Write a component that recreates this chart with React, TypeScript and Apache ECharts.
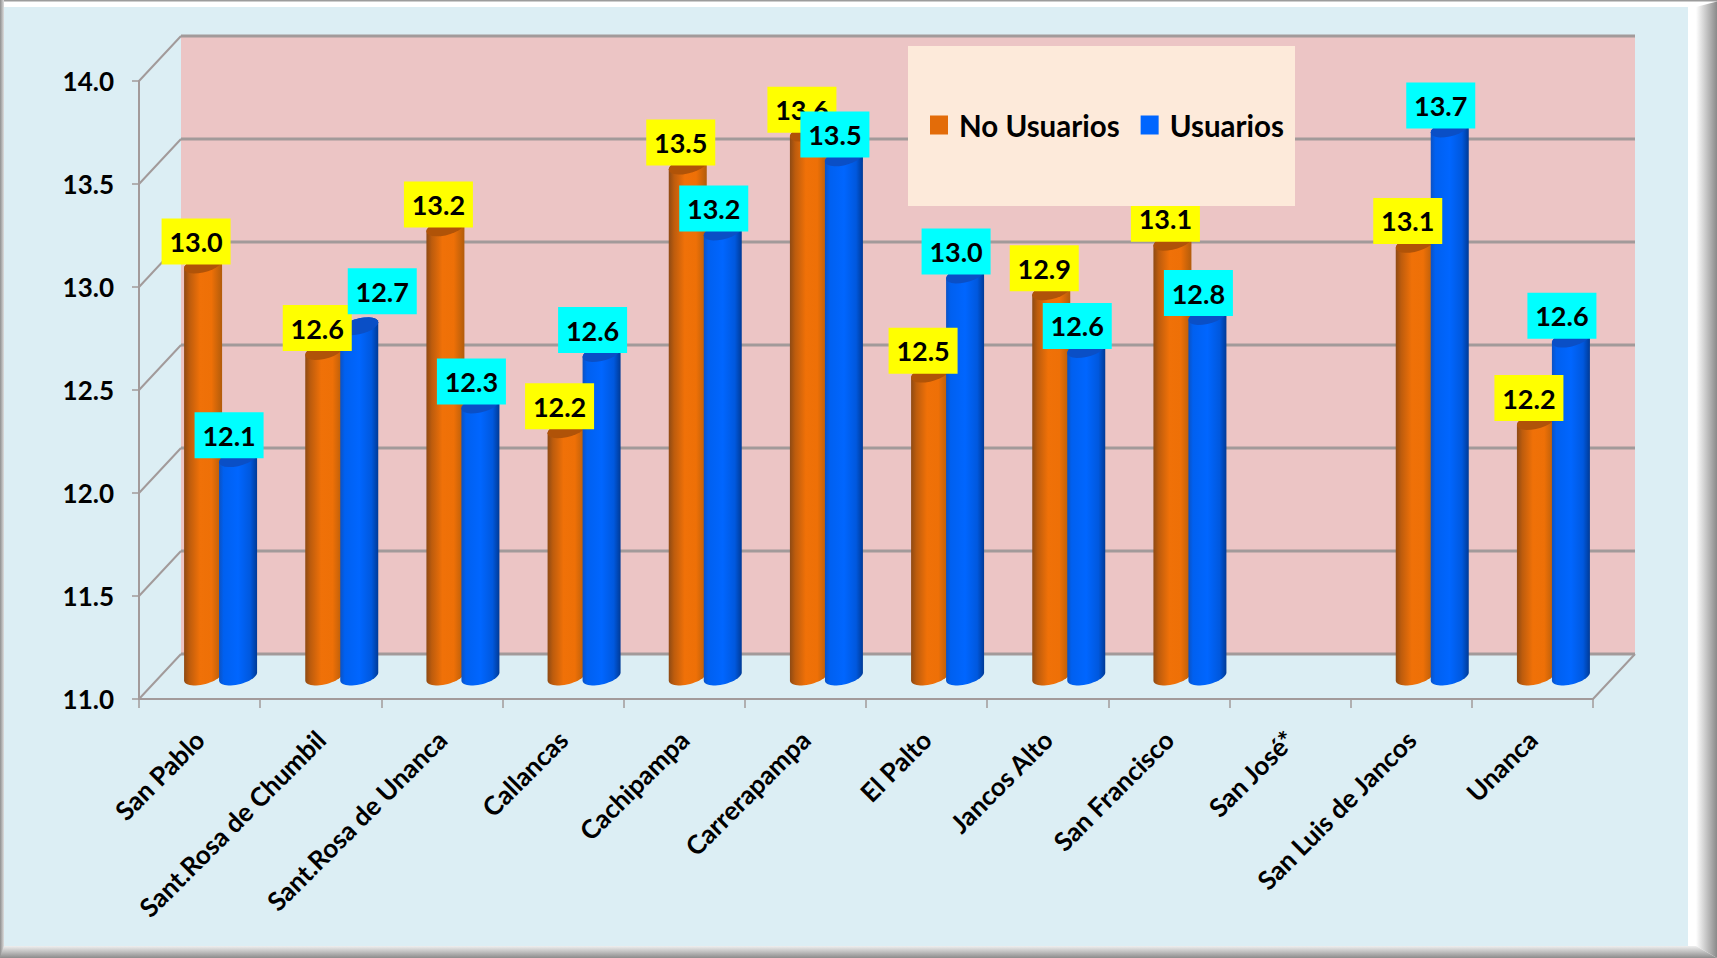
import React, { useEffect, useRef } from "react";
import * as echarts from "echarts";

const categories = ["San Pablo", "Sant.Rosa de Chumbil", "Sant.Rosa de Unanca", "Callancas", "Cachipampa", "Carrerapampa", "El Palto", "Jancos Alto", "San Francisco", "San José*", "San Luis de Jancos", "Unanca"];
const noUsuarios = [13.0, 12.58, 13.18, 12.2, 13.48, 13.64, 12.47, 12.87, 13.11, null, 13.1, 12.24];
const usuarios = [12.06, 12.7, 12.32, 12.57, 13.16, 13.52, 12.951, 12.59, 12.75, null, 13.66, 12.64];
const yTicks = [11, 11.5, 12, 12.5, 13, 13.5, 14];

const W = 1717, H = 958;
const FONT = "Lato";
const DX = 42, DY = 45;
const R = 19, BAR_OFF = 17.5, RY = 8, SK = 4;
const LBL_W = 69, LBL_H = 46;
const GRAY = "#a29a9a";

function rows(vals: (number | null)[]) {
  return vals.map((v, i) => [i, v]);
}
function arc(cx: number, cy: number, a0: number, a1: number) {
  const pts: number[][] = [];
  const n = 24;
  for (let k = 0; k <= n; k++) {
    const t = a0 + ((a1 - a0) * k) / n;
    pts.push([cx + R * Math.cos(t), cy + RY * Math.sin(t) - SK * Math.cos(t)]);
  }
  return pts;
}
const lg = (stops: [number, string][]) =>
  new echarts.graphic.LinearGradient(0, 0, 1, 0, stops.map(([offset, color]) => ({ offset, color })));

const wallSeries = {
  type: "custom",
  name: "wall",
  z: 1,
  silent: true,
  data: yTicks.map((v) => [0, v]),
  encode: { x: 0, y: 1 },
  renderItem(params: any, api: any) {
    const cs = params.coordSys;
    const v = api.value(1);
    const y = api.coord([0, v])[1];
    const x0 = cs.x, x1 = cs.x + cs.width;
    const line = (a: number[], b: number[], w: number) => ({
      type: "line",
      shape: { x1: a[0], y1: a[1], x2: b[0], y2: b[1] },
      style: { stroke: GRAY, lineWidth: w },
    });
    const children: any[] = [];
    if (params.dataIndex === 0) {
      children.push({
        type: "rect",
        shape: { x: x0 + DX, y: cs.y - DY, width: cs.width, height: cs.height },
        style: { fill: "#ecc5c5" },
      });
      children.push(line([x1, y], [x1 + DX, y - DY], 2));
    }
    children.push(line([x0 + DX, y - DY], [x1 + DX, y - DY], 3));
    children.push(line([x0, y], [x0 + DX, y - DY], 2));
    return { type: "group", children };
  },
};

function barSeries(name: string, vals: (number | null)[], side: number, stops: [number, string][], topFill: string, z: number) {
  return {
    type: "custom",
    name,
    z,
    silent: true,
    itemStyle: { color: side < 0 ? "#e36c09" : "#0066ff" },
    data: rows(vals),
    encode: { x: 0, y: 1 },
    renderItem(_p: any, api: any) {
      const v = api.value(1);
      if (v == null || isNaN(v)) return null;
      const i = api.value(0);
      const top = api.coord([i, v]);
      const base = api.coord([i, 11]);
      const cx = top[0] + DX / 2 + side * BAR_OFF;
      const ty = top[1] - DY / 2;
      const by = base[1] - DY / 2;
      const body = [...arc(cx, ty, Math.PI, 2 * Math.PI), ...arc(cx, by, 0, Math.PI)];
      const cap = arc(cx, ty, 0, 2 * Math.PI);
      return {
        type: "group",
        children: [
          { type: "polygon", shape: { points: body }, style: { fill: lg(stops) } },
          { type: "polygon", shape: { points: cap }, style: { fill: topFill } },
        ],
      };
    },
  };
}

function labelSeries(name: string, vals: (number | null)[], side: number, fill: string, z: number, shift: number, nudge: Record<number, number[]>) {
  return {
    type: "custom",
    name,
    z,
    silent: true,
    data: rows(vals),
    encode: { x: 0, y: 1 },
    renderItem(_p: any, api: any) {
      const v = api.value(1);
      if (v == null || isNaN(v)) return null;
      const i = api.value(0);
      const top = api.coord([i, v]);
      const [nx, ny] = nudge[i] || [0, 0];
      const cx = top[0] + DX / 2 + side * BAR_OFF + shift + nx;
      const bottom = top[1] - DY / 2 - ny;
      return {
        type: "group",
        children: [
          { type: "rect", shape: { x: cx - LBL_W / 2, y: bottom - LBL_H, width: LBL_W, height: LBL_H }, style: { fill } },
          {
            type: "text",
            x: cx,
            y: bottom - LBL_H / 2,
            style: { text: Number(v).toFixed(1), fill: "#000", font: `bold 27px ${FONT}`, textAlign: "center", textVerticalAlign: "middle" },
          },
        ],
      };
    },
  };
}

const orangeStops: [number, string][] = [[0, "#8e4a14"], [0.14, "#bd5c0d"], [0.42, "#f07108"], [0.72, "#ee7007"], [1, "#b25c0b"]];
const blueStops: [number, string][] = [[0, "#0b52c4"], [0.12, "#0060f0"], [0.5, "#0066ff"], [0.82, "#0058de"], [1, "#003a96"]];

export default function App() {
  const ref = useRef<HTMLDivElement>(null);
  useEffect(() => {
    const chart = echarts.init(ref.current!, null, { renderer: "svg" });
    const edge = (x: number, y: number, x2: number, y2: number, stops: [number, string][]) =>
      new echarts.graphic.LinearGradient(x, y, x2, y2, stops.map(([offset, color]) => ({ offset, color })));
    chart.setOption({
      animation: false,
      backgroundColor: "#ffffff",
      graphic: [
        { type: "rect", z: -10, shape: { x: 0, y: 0, width: W, height: 1.5 }, style: { fill: "#9c9c9c" } },
        { type: "rect", z: -10, shape: { x: 0, y: 0, width: 4, height: H }, style: { fill: edge(0, 0, 1, 0, [[0, "#8f8f8f"], [1, "#dddddd"]]) } },
        { type: "polygon", z: -9, shape: { points: [[1696, 7], [W, 1.5], [W, H], [1696, 946]] }, style: { fill: edge(0, 0, 1, 0, [[0, "#ffffff"], [1, "#8a8a8a"]]) } },
        { type: "polygon", z: -8, shape: { points: [[4, 946], [1696, 946], [W, H], [0, H]] }, style: { fill: edge(0, 0, 0, 1, [[0, "#efefef"], [1, "#8c8c8c"]]) } },
        { type: "rect", z: -7, shape: { x: 4, y: 7, width: 1684, height: 939 }, style: { fill: "#dceef4" } },
        { type: "rect", z: 9, shape: { x: 908, y: 46, width: 387, height: 160 }, style: { fill: "#fdeada" } },
      ],
      legend: {
        z: 10,
        left: 930,
        top: 110,
        orient: "horizontal",
        padding: 0,
        icon: "rect",
        itemWidth: 18,
        itemHeight: 19,
        itemGap: 21,
        selectedMode: false,
        data: [
          { name: "No Usuarios", itemStyle: { color: "#e36c09" } },
          { name: "Usuarios", itemStyle: { color: "#0066ff" } },
        ],
        textStyle: { fontFamily: FONT, fontWeight: "bold", fontSize: 29.5, color: "#000", padding: [0, 0, 0, 6] },
      },
      grid: { left: 139, top: 81, width: 1454, height: 618, containLabel: false },
      xAxis: {
        type: "category",
        data: categories,
        boundaryGap: true,
        axisLine: { show: true, lineStyle: { color: GRAY, width: 2 } },
        axisTick: { show: true, length: 9, inside: false, lineStyle: { color: GRAY, width: 1.5 } },
        axisLabel: { interval: 0, rotate: 45, margin: 36, fontFamily: FONT, fontWeight: "bold", fontSize: 26, color: "#000" },
        splitLine: { show: false },
      },
      yAxis: {
        type: "value",
        min: 11,
        max: 14,
        interval: 0.5,
        axisLine: { show: true, lineStyle: { color: GRAY, width: 2 } },
        axisTick: { show: true, length: 7, lineStyle: { color: GRAY, width: 1.5 } },
        axisLabel: { margin: 25, fontFamily: FONT, fontWeight: "bold", fontSize: 26, color: "#000", formatter: (v: number) => v.toFixed(1) },
        splitLine: { show: false },
      },
      series: [
        wallSeries,
        barSeries("No Usuarios", noUsuarios, -1, orangeStops, "#b05308", 3),
        barSeries("Usuarios", usuarios, 1, blueStops, "#0a4fc6", 4),
        labelSeries("etiquetas No Usuarios", noUsuarios, -1, "#ffff00", 5, -7, {}),
        labelSeries("etiquetas Usuarios", usuarios, 1, "#00ffff", 6, -9, { 1: [32, 12] }),
      ],
    });
    return () => chart.dispose();
  }, []);
  return <div ref={ref} style={{ position: "absolute", left: 0, top: 0, width: W, height: H }} />;
}
